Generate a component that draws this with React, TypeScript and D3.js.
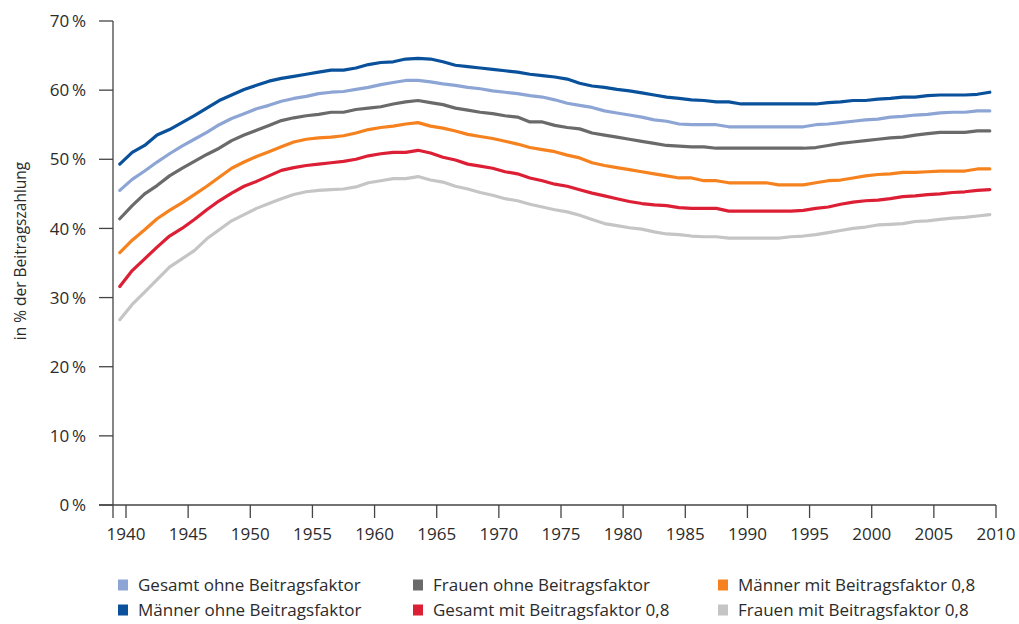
import React from 'react';
import * as d3 from 'd3';

// Jahrgänge 1939–2009, gezeichnet jeweils zur Jahresmitte
const years = d3.range(1939, 2010);

const maennerOhne = [
  49.3, 51.0, 52.0, 53.5, 54.3, 55.3, 56.3, 57.4, 58.5, 59.3,
  60.1, 60.7, 61.3, 61.7, 62.0, 62.3, 62.6, 62.9, 62.9, 63.2,
  63.7, 64.0, 64.1, 64.5, 64.6, 64.5, 64.1, 63.6, 63.4, 63.2,
  63.0, 62.8, 62.6, 62.3, 62.1, 61.9, 61.6, 61.0, 60.6, 60.4,
  60.1, 59.9, 59.6, 59.3, 59.0, 58.8, 58.6, 58.5, 58.3, 58.3,
  58.0, 58.0, 58.0, 58.0, 58.0, 58.0, 58.0, 58.2, 58.3, 58.5,
  58.5, 58.7, 58.8, 59.0, 59.0, 59.2, 59.3, 59.3, 59.3, 59.4,
  59.7,
];

const gesamtOhne = [
  45.5, 47.1, 48.3, 49.6, 50.8, 51.9, 52.9, 53.9, 55.0, 55.9,
  56.6, 57.3, 57.8, 58.4, 58.8, 59.1, 59.5, 59.7, 59.8, 60.1,
  60.4, 60.8, 61.1, 61.4, 61.4, 61.2, 60.9, 60.7, 60.4, 60.2,
  59.9, 59.7, 59.5, 59.2, 59.0, 58.6, 58.1, 57.8, 57.5, 57.0,
  56.7, 56.4, 56.1, 55.7, 55.5, 55.1, 55.0, 55.0, 55.0, 54.7,
  54.7, 54.7, 54.7, 54.7, 54.7, 54.7, 55.0, 55.1, 55.3, 55.5,
  55.7, 55.8, 56.1, 56.2, 56.4, 56.5, 56.7, 56.8, 56.8, 57.0,
  57.0,
];

const frauenOhne = [
  41.4, 43.3, 45.0, 46.2, 47.6, 48.7, 49.7, 50.7, 51.6, 52.7,
  53.5, 54.2, 54.9, 55.6, 56.0, 56.3, 56.5, 56.8, 56.8, 57.2,
  57.4, 57.6, 58.0, 58.3, 58.5, 58.2, 57.9, 57.4, 57.1, 56.8,
  56.6, 56.3, 56.1, 55.4, 55.4, 54.9, 54.6, 54.4, 53.8, 53.5,
  53.2, 52.9, 52.6, 52.3, 52.0, 51.9, 51.8, 51.8, 51.6, 51.6,
  51.6, 51.6, 51.6, 51.6, 51.6, 51.6, 51.7, 52.0, 52.3, 52.5,
  52.7, 52.9, 53.1, 53.2, 53.5, 53.7, 53.9, 53.9, 53.9, 54.1,
  54.1,
];

const maennerMit = [
  36.5, 38.3, 39.8, 41.4, 42.6, 43.7, 44.9, 46.1, 47.4, 48.7,
  49.6, 50.4, 51.1, 51.8, 52.5, 52.9, 53.1, 53.2, 53.4, 53.8,
  54.3, 54.6, 54.8, 55.1, 55.3, 54.8, 54.5, 54.1, 53.6, 53.3,
  53.0, 52.6, 52.2, 51.7, 51.4, 51.1, 50.6, 50.2, 49.5, 49.1,
  48.8, 48.5, 48.2, 47.9, 47.6, 47.3, 47.3, 46.9, 46.9, 46.6,
  46.6, 46.6, 46.6, 46.3, 46.3, 46.3, 46.6, 46.9, 47.0, 47.3,
  47.6, 47.8, 47.9, 48.1, 48.1, 48.2, 48.3, 48.3, 48.3, 48.6,
  48.6,
];

const gesamtMit = [
  31.6, 33.9, 35.6, 37.3, 38.9, 40.0, 41.3, 42.7, 44.0, 45.1,
  46.1, 46.8, 47.6, 48.4, 48.8, 49.1, 49.3, 49.5, 49.7, 50.0,
  50.5, 50.8, 51.0, 51.0, 51.3, 50.9, 50.3, 49.9, 49.3, 49.0,
  48.7, 48.2, 47.9, 47.3, 46.9, 46.4, 46.1, 45.6, 45.1, 44.7,
  44.3, 43.9, 43.6, 43.4, 43.3, 43.0, 42.9, 42.9, 42.9, 42.5,
  42.5, 42.5, 42.5, 42.5, 42.5, 42.6, 42.9, 43.1, 43.5, 43.8,
  44.0, 44.1, 44.3, 44.6, 44.7, 44.9, 45.0, 45.2, 45.3, 45.5,
  45.6,
];

const frauenMit = [
  26.8, 29.0, 30.8, 32.6, 34.4, 35.6, 36.8, 38.5, 39.8, 41.1,
  42.0, 42.9, 43.6, 44.3, 44.9, 45.3, 45.5, 45.6, 45.7, 46.0,
  46.6, 46.9, 47.2, 47.2, 47.5, 47.0, 46.7, 46.1, 45.7, 45.2,
  44.8, 44.3, 44.0, 43.5, 43.1, 42.7, 42.4, 41.9, 41.3, 40.7,
  40.4, 40.1, 39.9, 39.5, 39.2, 39.1, 38.9, 38.8, 38.8, 38.6,
  38.6, 38.6, 38.6, 38.6, 38.8, 38.9, 39.1, 39.4, 39.7, 40.0,
  40.2, 40.5, 40.6, 40.7, 41.0, 41.1, 41.3, 41.5, 41.6, 41.8,
  42.0,
];

const xTicks = [1940, 1945, 1950, 1955, 1960, 1965, 1970, 1975, 1980, 1985, 1990, 1995, 2000, 2005, 2010];
const yTicks = [0, 10, 20, 30, 40, 50, 60, 70];

// Reihenfolge der Legende (spaltenweise, zwei Zeilen)
const legendLabels = [
  'Gesamt ohne Beitragsfaktor',
  'Männer ohne Beitragsfaktor',
  'Frauen ohne Beitragsfaktor',
  'Gesamt mit Beitragsfaktor 0,8',
  'Männer mit Beitragsfaktor 0,8',
  'Frauen mit Beitragsfaktor 0,8',
];
const legendColors = ['#8da5d5', '#0a519c', '#6a6a6a', '#dc1f35', '#f5821f', '#c5c5c5'];
const legendValues = [gesamtOhne, maennerOhne, frauenOhne, gesamtMit, maennerMit, frauenMit];

// Zeichenreihenfolge von hinten nach vorne
const drawOrder = [5, 3, 4, 2, 0, 1];

const W = 1019;
const H = 624;
const FONT = '"Open Sans", "Noto Sans", sans-serif';

const x = d3.scaleLinear().domain([1940, 2010]).range([126, 996]);
const y = d3.scaleLinear().domain([0, 70]).range([505, 21]);
const axisX = 113; // y-Achse
const axisLeft = 99;

export default function App() {
  const line = d3
    .line<number>()
    .x((_, i) => x(years[i] + 0.5))
    .y((d) => y(d));

  return (
    <svg
      width={W}
      height={H}
      viewBox={`0 0 ${W} ${H}`}
      style={{ position: 'absolute', left: 0, top: 0, display: 'block', background: '#fff' }}
      fontFamily={FONT}
    >
      {/* y-Achse */}
      <line x1={axisX} x2={axisX} y1={y(70)} y2={y(0) + 13} stroke="#444" strokeWidth={1.3} />
      {yTicks.map((t) => (
        <g key={t}>
          <line x1={axisLeft} x2={axisX} y1={y(t)} y2={y(t)} stroke="#444" strokeWidth={1.3} />
          <text x={86} y={y(t)} dy="0.36em" textAnchor="end" fontSize={17} fill="#2b2b2b">
            {t}{'\u2009'}%
          </text>
        </g>
      ))}
      {/* x-Achse */}
      <line x1={axisLeft} x2={x(2010)} y1={y(0)} y2={y(0)} stroke="#444" strokeWidth={1.3} />
      {xTicks.map((t) => (
        <g key={t}>
          <line x1={x(t)} x2={x(t)} y1={y(0)} y2={y(0) + 13} stroke="#444" strokeWidth={1.3} />
          <text x={x(t)} y={y(0) + 29} dy="0.36em" textAnchor="middle" fontSize={17} fill="#2b2b2b">
            {t}
          </text>
        </g>
      ))}
      <text
        transform={`translate(26, 251) rotate(-90)`}
        textAnchor="middle"
        fontSize={15.5}
        fill="#2b2b2b"
      >
        in % der Beitragszahlung
      </text>

      {drawOrder.map((i) => (
        <path
          key={legendLabels[i]}
          d={line(legendValues[i]) || ''}
          fill="none"
          stroke={legendColors[i]}
          strokeWidth={3.2}
          strokeLinejoin="round"
          strokeLinecap="round"
        />
      ))}

      {legendLabels.map((label, i) => {
        const col = Math.floor(i / 2);
        const row = i % 2;
        const lx = [118, 413, 718][col];
        const ly = 585 + row * 25;
        return (
          <g key={label}>
            <rect x={lx} y={ly - 5.5} width={10} height={11} fill={legendColors[i]} />
            <text x={lx + 20} y={ly} dy="0.36em" fontSize={17} fill="#2b2b2b">
              {label}
            </text>
          </g>
        );
      })}
    </svg>
  );
}
